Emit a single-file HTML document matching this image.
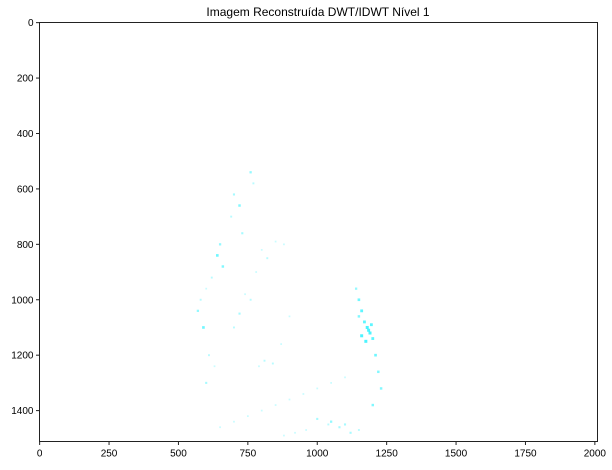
<!DOCTYPE html>
<html><head><meta charset="utf-8"><style>
body{margin:0;background:#fff;}
svg text{font-family:"Liberation Sans","DejaVu Sans",sans-serif;font-size:10px;fill:#000;}
</style></head><body>
<svg id="chart" width="612" height="465">
<rect width="612" height="465" fill="#fff"/>
<text x="318" y="16" text-anchor="middle" style="font-size:12px">Imagem Reconstruída DWT/IDWT Nível 1</text>
<g id="marks"></g>
<g id="axes"></g>
</svg>
<script>
const imgW = 2010, imgH = 1512;
const xTicks = [0,250,500,750,1000,1250,1500,1750,2000];
const yTicks = [0,200,400,600,800,1000,1200,1400];
const ptX = [760,770,700,720,690,730,650,640,660,620,600,580,570,590,610,630,700,720,740,760,780,800,820,850,880,900,870,840,810,790,1140,1150,1160,1170,1180,1190,1200,1210,1220,1230,1160,1175,1185,1195,1150,1200,1100,1050,1000,950,900,850,800,750,700,650,600,1000,1050,1100,1150,1120,1080,1040,960,920,880];
const ptY = [540,580,620,660,700,760,800,840,880,920,960,1000,1040,1100,1200,1240,1100,1050,980,1000,900,820,850,790,800,1060,1160,1230,1220,1240,960,1000,1040,1080,1100,1120,1140,1200,1260,1320,1130,1150,1110,1090,1060,1380,1280,1300,1320,1340,1360,1380,1400,1420,1440,1460,1300,1430,1440,1450,1470,1480,1460,1450,1470,1480,1490];
const ptV = [0.6,0.4,0.5,0.7,0.4,0.5,0.6,0.8,0.7,0.4,0.3,0.4,0.6,0.8,0.4,0.3,0.4,0.5,0.3,0.4,0.3,0.3,0.4,0.3,0.3,0.3,0.3,0.4,0.4,0.3,0.6,0.8,0.9,0.9,1,1,0.9,0.8,0.7,0.7,1,1,1,0.9,0.7,0.7,0.3,0.3,0.3,0.3,0.3,0.3,0.3,0.3,0.3,0.3,0.5,0.5,0.6,0.5,0.4,0.5,0.5,0.4,0.3,0.3,0.3];
const L=39.5,R=597.5,T=22.5,B=441.5;
const sx=v=>L+(v+0.5)/imgW*(R-L);
const sy=v=>T+(v+0.5)/imgH*(B-T);
const NS="http://www.w3.org/2000/svg";
const marks=document.getElementById('marks');
for(let i=0;i<ptX.length;i++){
  const c=document.createElementNS(NS,'rect');
  
  
  const s=1.2+ptV[i]*1.8;
  c.setAttribute('x',sx(ptX[i])-s/2);c.setAttribute('y',sy(ptY[i])-s/2);
  c.setAttribute('width',s);c.setAttribute('height',s);
  c.setAttribute('fill','#00f0ff');c.setAttribute('opacity',ptV[i]*0.7);
  marks.appendChild(c);
}
const axes=document.getElementById('axes');
const fr=document.createElementNS(NS,'rect');


fr.setAttribute('x',L);fr.setAttribute('y',T);fr.setAttribute('width',R-L);fr.setAttribute('height',B-T);
fr.setAttribute('fill','none');fr.setAttribute('stroke','#222');fr.setAttribute('stroke-width','1');
axes.appendChild(fr);
xTicks.forEach(t=>{
  const x=sx(t);
  const l=document.createElementNS(NS,'line');
  
  
  l.setAttribute('x1',x);l.setAttribute('x2',x);l.setAttribute('y1',B);l.setAttribute('y2',B+3.5);l.setAttribute('stroke','#222');
  axes.appendChild(l);
  const tx=document.createElementNS(NS,'text');
  
  
  tx.setAttribute('x',x);tx.setAttribute('y',B+15);tx.setAttribute('text-anchor','middle');tx.textContent=t;
  axes.appendChild(tx);
});
yTicks.forEach(t=>{
  const y=sy(t);
  const l=document.createElementNS(NS,'line');
  
  
  l.setAttribute('x1',L-3.5);l.setAttribute('x2',L);l.setAttribute('y1',y);l.setAttribute('y2',y);l.setAttribute('stroke','#222');
  axes.appendChild(l);
  const tx=document.createElementNS(NS,'text');
  
  
  tx.setAttribute('x',L-6);tx.setAttribute('y',y+3.5);tx.setAttribute('text-anchor','end');tx.textContent=t;
  axes.appendChild(tx);
});
</script>
</body></html>
